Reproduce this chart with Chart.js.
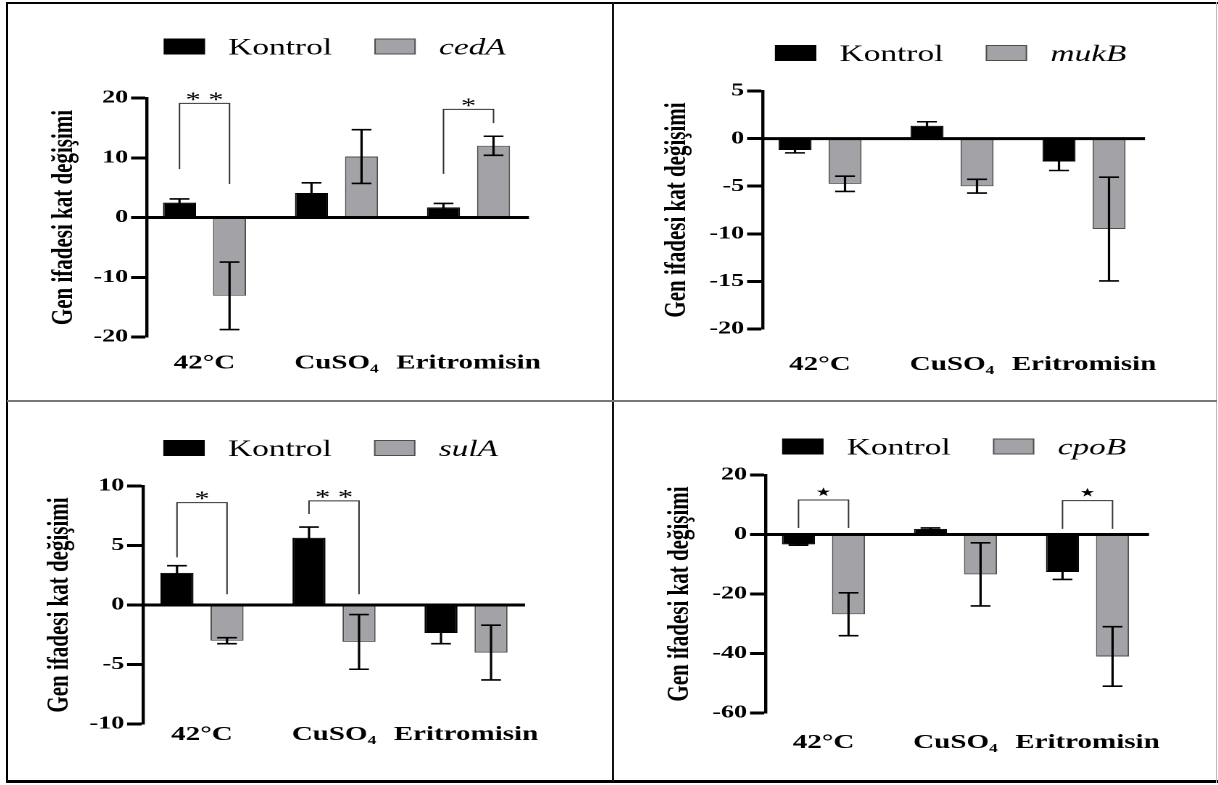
<!DOCTYPE html>
<html>
<head>
<meta charset="utf-8">
<script src="https://cdn.jsdelivr.net/npm/chart.js@4.4.1/dist/chart.umd.min.js"></script>
<style>
  body { margin: 0; background: #fff; }
  #page { position: relative; width: 1218px; height: 785px; overflow: hidden; background: #fff; }
  .rule { position: absolute; }
  .panel { position: absolute; overflow: hidden; }
  .stretch { position: absolute; left: 0; top: 0; transform-origin: 0 0; }
</style>
</head>
<body>
<div id="page">
  <div class="panel" id="p0"><div class="stretch"><canvas id="c0"></canvas></div></div>
  <div class="panel" id="p1"><div class="stretch"><canvas id="c1"></canvas></div></div>
  <div class="panel" id="p2"><div class="stretch"><canvas id="c2"></canvas></div></div>
  <div class="panel" id="p3"><div class="stretch"><canvas id="c3"></canvas></div></div>

  <div class="rule" style="left:6px;top:2px;width:1212px;height:2px;background:#000"></div>
  <div class="rule" style="left:6px;top:2px;width:2px;height:781px;background:#000"></div>
  <div class="rule" style="left:6px;top:780px;width:1212px;height:3px;background:#000"></div>
  <div class="rule" style="left:1216px;top:2px;width:1px;height:781px;background:#bbb"></div>
  <div class="rule" style="left:612px;top:2px;width:2px;height:780px;background:#111"></div>
  <div class="rule" style="left:7px;top:400px;width:1210px;height:2px;background:#777"></div>
</div>

<script>
// the published figure is stretched sideways, so every chart is drawn narrow and scaled in x
const S = 1.45;
const FONT = '"Liberation Serif", "Times New Roman", serif';
const GRAY = '#a3a3a7';

// Data - START
const groups = ['42°C', 'CuSO₄', 'Eritromisin'];

const cedAKontrol = [2.5, 4.1, 1.7];
const cedAKontrolErr = [0.6, 1.7, 0.65];
const cedAValues = [-13.1, 10.2, 12.0];
const cedAErr = [5.65, 4.5, 1.6];
const cedATicks = [-20, -10, 0, 10, 20];
// [group, bracket top, left leg end, right leg end, mark]
const cedAStars = [[0, 19.1, 8.1, 5.6, '* *'], [2, 18.1, 7.3, 15.8, '*']];

const mukBKontrol = [-1.2, 1.35, -2.4];
const mukBKontrolErr = [0.3, 0.42, 0.95];
const mukBValues = [-4.75, -5.0, -9.5];
const mukBErr = [0.8, 0.72, 5.45];
const mukBTicks = [-20, -15, -10, -5, 0, 5];
const mukBStars = [];

const sulAKontrol = [2.7, 5.65, -2.35];
const sulAKontrolErr = [0.6, 0.9, 0.9];
const sulAValues = [-3.0, -3.1, -4.0];
const sulAErr = [0.25, 2.3, 2.3];
const sulATicks = [-10, -5, 0, 5, 10];
const sulAStars = [[0, 8.6, 4.0, 0.9, '*'], [1, 8.75, 7.65, 0.9, '* *']];

const cpoBKontrol = [-3.3, 1.9, -12.6];
const cpoBKontrolErr = [0.3, 0.3, 2.5];
const cpoBValues = [-26.8, -13.4, -41.0];
const cpoBErr = [7.2, 10.6, 10.0];
const cpoBTicks = [-60, -40, -20, 0, 20];
const cpoBStars = [[0, 11.6, 2.2, 2.2, '★'], [2, 11.4, 1.9, 1.9, '★']];
// Data - END

// where each panel sits on the page (page pixels)
const panels = [
  { id: 'c0', gene: 'cedA', kontrol: cedAKontrol, kontrolErr: cedAKontrolErr, values: cedAValues, err: cedAErr, ticks: cedATicks, stars: cedAStars,
    box: [9, 4, 603, 396], axisX: 147, rightX: 529, group0: 204.5, topY: 98, botY: 337, labelGap: 26.5, legendY: 46.5, titleX: 64 },
  { id: 'c1', gene: 'mukB', kontrol: mukBKontrol, kontrolErr: mukBKontrolErr, values: mukBValues, err: mukBErr, ticks: mukBTicks, stars: mukBStars,
    box: [614, 4, 602, 396], axisX: 763, rightX: 1145, group0: 820, topY: 91, botY: 329, labelGap: 36, legendY: 53, titleX: 677 },
  { id: 'c2', gene: 'sulA', kontrol: sulAKontrol, kontrolErr: sulAKontrolErr, values: sulAValues, err: sulAErr, ticks: sulATicks, stars: sulAStars,
    box: [9, 402, 603, 378], axisX: 143, rightX: 525, group0: 202, topY: 486, botY: 724, labelGap: 11, legendY: 448, titleX: 60 },
  { id: 'c3', gene: 'cpoB', kontrol: cpoBKontrol, kontrolErr: cpoBKontrolErr, values: cpoBValues, err: cpoBErr, ticks: cpoBTicks, stars: cpoBStars,
    box: [614, 402, 602, 378], axisX: 766, rightX: 1149, group0: 823.5, topY: 475, botY: 713, labelGap: 30, legendY: 446.5, titleX: 680 }
];
const GROUP_STEP = 132;

// zero line, error bars and significance brackets
const extrasPlugin = {
  id: 'extras',
  afterDatasetsDraw(chart) {
    const ctx = chart.ctx;
    const y = chart.scales.y;
    const area = chart.chartArea;
    ctx.save();

    // error bars
    chart.data.datasets.forEach(function (ds, d) {
      const meta = chart.getDatasetMeta(d);
      meta.data.forEach(function (bar, i) {
        const v = ds.data[i].y;
        const e = ds.errors[i];
        const y1 = y.getPixelForValue(v + e);
        const y2 = y.getPixelForValue(v - e);
        const half = bar.width * 0.3;
        ctx.strokeStyle = '#000';
        ctx.lineWidth = 1.6;
        ctx.beginPath();
        ctx.moveTo(bar.x, y1); ctx.lineTo(bar.x, y2);
        ctx.moveTo(bar.x - half, y1); ctx.lineTo(bar.x + half, y1);
        ctx.moveTo(bar.x - half, y2); ctx.lineTo(bar.x + half, y2);
        ctx.stroke();
      });
    });

    // zero line
    const y0 = y.getPixelForValue(0);
    ctx.strokeStyle = '#000';
    ctx.lineWidth = 3;
    ctx.beginPath();
    ctx.moveTo(area.left, y0);
    ctx.lineTo(area.right, y0);
    ctx.stroke();

    // brackets
    const m0 = chart.getDatasetMeta(0);
    const m1 = chart.getDatasetMeta(1);
    chart.options.plugins.extras.stars.forEach(function (s) {
      const x1 = m0.data[s[0]].x;
      const x2 = m1.data[s[0]].x;
      const top = y.getPixelForValue(s[1]);
      ctx.strokeStyle = '#333';
      ctx.lineWidth = 1;
      ctx.beginPath();
      ctx.moveTo(x1, y.getPixelForValue(s[2]));
      ctx.lineTo(x1, top);
      ctx.lineTo(x2, top);
      ctx.lineTo(x2, y.getPixelForValue(s[3]));
      ctx.stroke();
      ctx.fillStyle = '#000';
      ctx.textAlign = 'center';
      if (s[4] === '★') {
        ctx.font = '12px "DejaVu Sans"';
        ctx.textBaseline = 'middle';
        ctx.fillText(s[4], (x1 + x2) / 2, top - 7);
      } else {
        ctx.font = '21px ' + FONT;
        ctx.textBaseline = 'alphabetic';
        ctx.fillText(s[4], (x1 + x2) / 2, top + 3);
      }
    });
    ctx.restore();
  }
};

// legend: box + "Kontrol", box + italic gene name
const legendPlugin = {
  id: 'boxLegend',
  afterDraw(chart) {
    const ctx = chart.ctx;
    const opts = chart.options.plugins.boxLegend;
    const area = chart.chartArea;
    const sx = opts.sx;
    const boxW = 40 / sx, boxH = 15, gap = 24 / sx, itemGap = 43 / sx;
    const fonts = ['23px ' + FONT, 'italic 23px ' + FONT];
    const texts = ['Kontrol', opts.gene];
    ctx.save();
    const widths = texts.map(function (t, i) { ctx.font = fonts[i]; return ctx.measureText(t).width; });
    const total = 2 * (boxW + gap) + widths[0] + widths[1] + itemGap;
    let x = (area.left + area.right) / 2 - total / 2 - 3 / sx;
    const yc = opts.y;
    [['#000', '#000'], [GRAY, '#4d4d4d']].forEach(function (c, i) {
      ctx.fillStyle = c[0];
      ctx.fillRect(x, yc - boxH / 2, boxW, boxH);
      ctx.strokeStyle = c[1];
      ctx.lineWidth = 1;
      ctx.strokeRect(x, yc - boxH / 2, boxW, boxH);
      x += boxW + gap;
      ctx.font = fonts[i];
      ctx.fillStyle = '#000';
      ctx.textAlign = 'left';
      ctx.textBaseline = 'alphabetic';
      ctx.fillText(texts[i], x, yc + boxH / 2 + 0.5);
      x += widths[i] + itemGap;
    });
    ctx.restore();
  }
};

function makeChart(p) {
  const L = p.box[0], T = p.box[1], W = p.box[2], H = p.box[3];
  const cw = Math.round(W / S);
  const sx = W / cw;

  const panelDiv = document.getElementById(p.id).parentNode.parentNode;
  panelDiv.style.left = L + 'px';
  panelDiv.style.top = T + 'px';
  panelDiv.style.width = W + 'px';
  panelDiv.style.height = H + 'px';
  const wrap = document.getElementById(p.id).parentNode;
  wrap.style.width = cw + 'px';
  wrap.style.height = H + 'px';
  wrap.style.transform = 'scaleX(' + sx + ')';

  const canvas = document.getElementById(p.id);
  canvas.width = cw;
  canvas.height = H;

  const left = (p.axisX - L) / sx;
  const right = (p.rightX - L) / sx;
  const top = p.topY - T;
  const bottom = p.botY - T;
  const titleSize = 21;
  const padLeft = (p.titleX - L) / sx - titleSize / 2;
  const xH = 55;

  return new Chart(canvas, {
    type: 'bar',
    data: {
      datasets: [
        {
          label: 'Kontrol',
          data: p.kontrol.map(function (v, i) { return { x: i, y: v }; }),
          errors: p.kontrolErr,
          backgroundColor: '#000',
          borderColor: '#000',
          borderWidth: 1,
          categoryPercentage: 0.758,
          barPercentage: 0.66
        },
        {
          label: p.gene,
          data: p.values.map(function (v, i) { return { x: i, y: v }; }),
          errors: p.err,
          backgroundColor: GRAY,
          borderColor: '#4d4d4d',
          borderWidth: 1,
          categoryPercentage: 0.758,
          barPercentage: 0.66
        }
      ]
    },
    options: {
      responsive: false,
      animation: false,
      devicePixelRatio: 2,
      layout: { padding: { left: padLeft, right: cw - right, top: top, bottom: H - bottom - xH } },
      plugins: {
        legend: { display: false },
        tooltip: { enabled: false },
        extras: { stars: p.stars },
        boxLegend: { gene: p.gene, y: p.legendY - T, sx: sx }
      },
      scales: {
        x: {
          type: 'linear',
          offset: false,
          min: (p.axisX - p.group0) / GROUP_STEP,
          max: (p.rightX - p.group0) / GROUP_STEP,
          grid: { display: false, drawTicks: false, offset: false },
          border: { display: false },
          afterBuildTicks: function (s) { s.ticks = groups.map(function (g, i) { return { value: i }; }); },
          afterFit: function (s) { s.height = xH; },
          ticks: {
            autoSkip: false, maxRotation: 0, minRotation: 0,
            padding: p.labelGap - 10,
            color: '#000',
            font: { family: FONT, size: 20, weight: 'bold', lineHeight: 1 },
            callback: function (v) { return groups[v]; }
          }
        },
        y: {
          min: p.ticks[0],
          max: p.ticks[p.ticks.length - 1],
          afterBuildTicks: function (s) { s.ticks = p.ticks.map(function (v) { return { value: v }; }); },
          afterFit: function (s) { s.width = left - padLeft; },
          grid: { drawOnChartArea: false, drawTicks: true, tickLength: 11, tickColor: '#000', tickWidth: 3 },
          border: { display: true, color: '#000', width: 2.2 },
          ticks: {
            padding: 2,
            color: '#000',
            font: { family: FONT, size: 18, weight: 'bold' }
          },
          title: {
            display: true,
            text: 'Gen ifadesi kat değişimi',
            color: '#000',
            padding: { top: 0, bottom: 0 },
            font: { family: FONT, size: titleSize, weight: 'bold', lineHeight: 1 }
          }
        }
      }
    },
    plugins: [extrasPlugin, legendPlugin]
  });
}

panels.forEach(makeChart);
</script>
</body>
</html>
